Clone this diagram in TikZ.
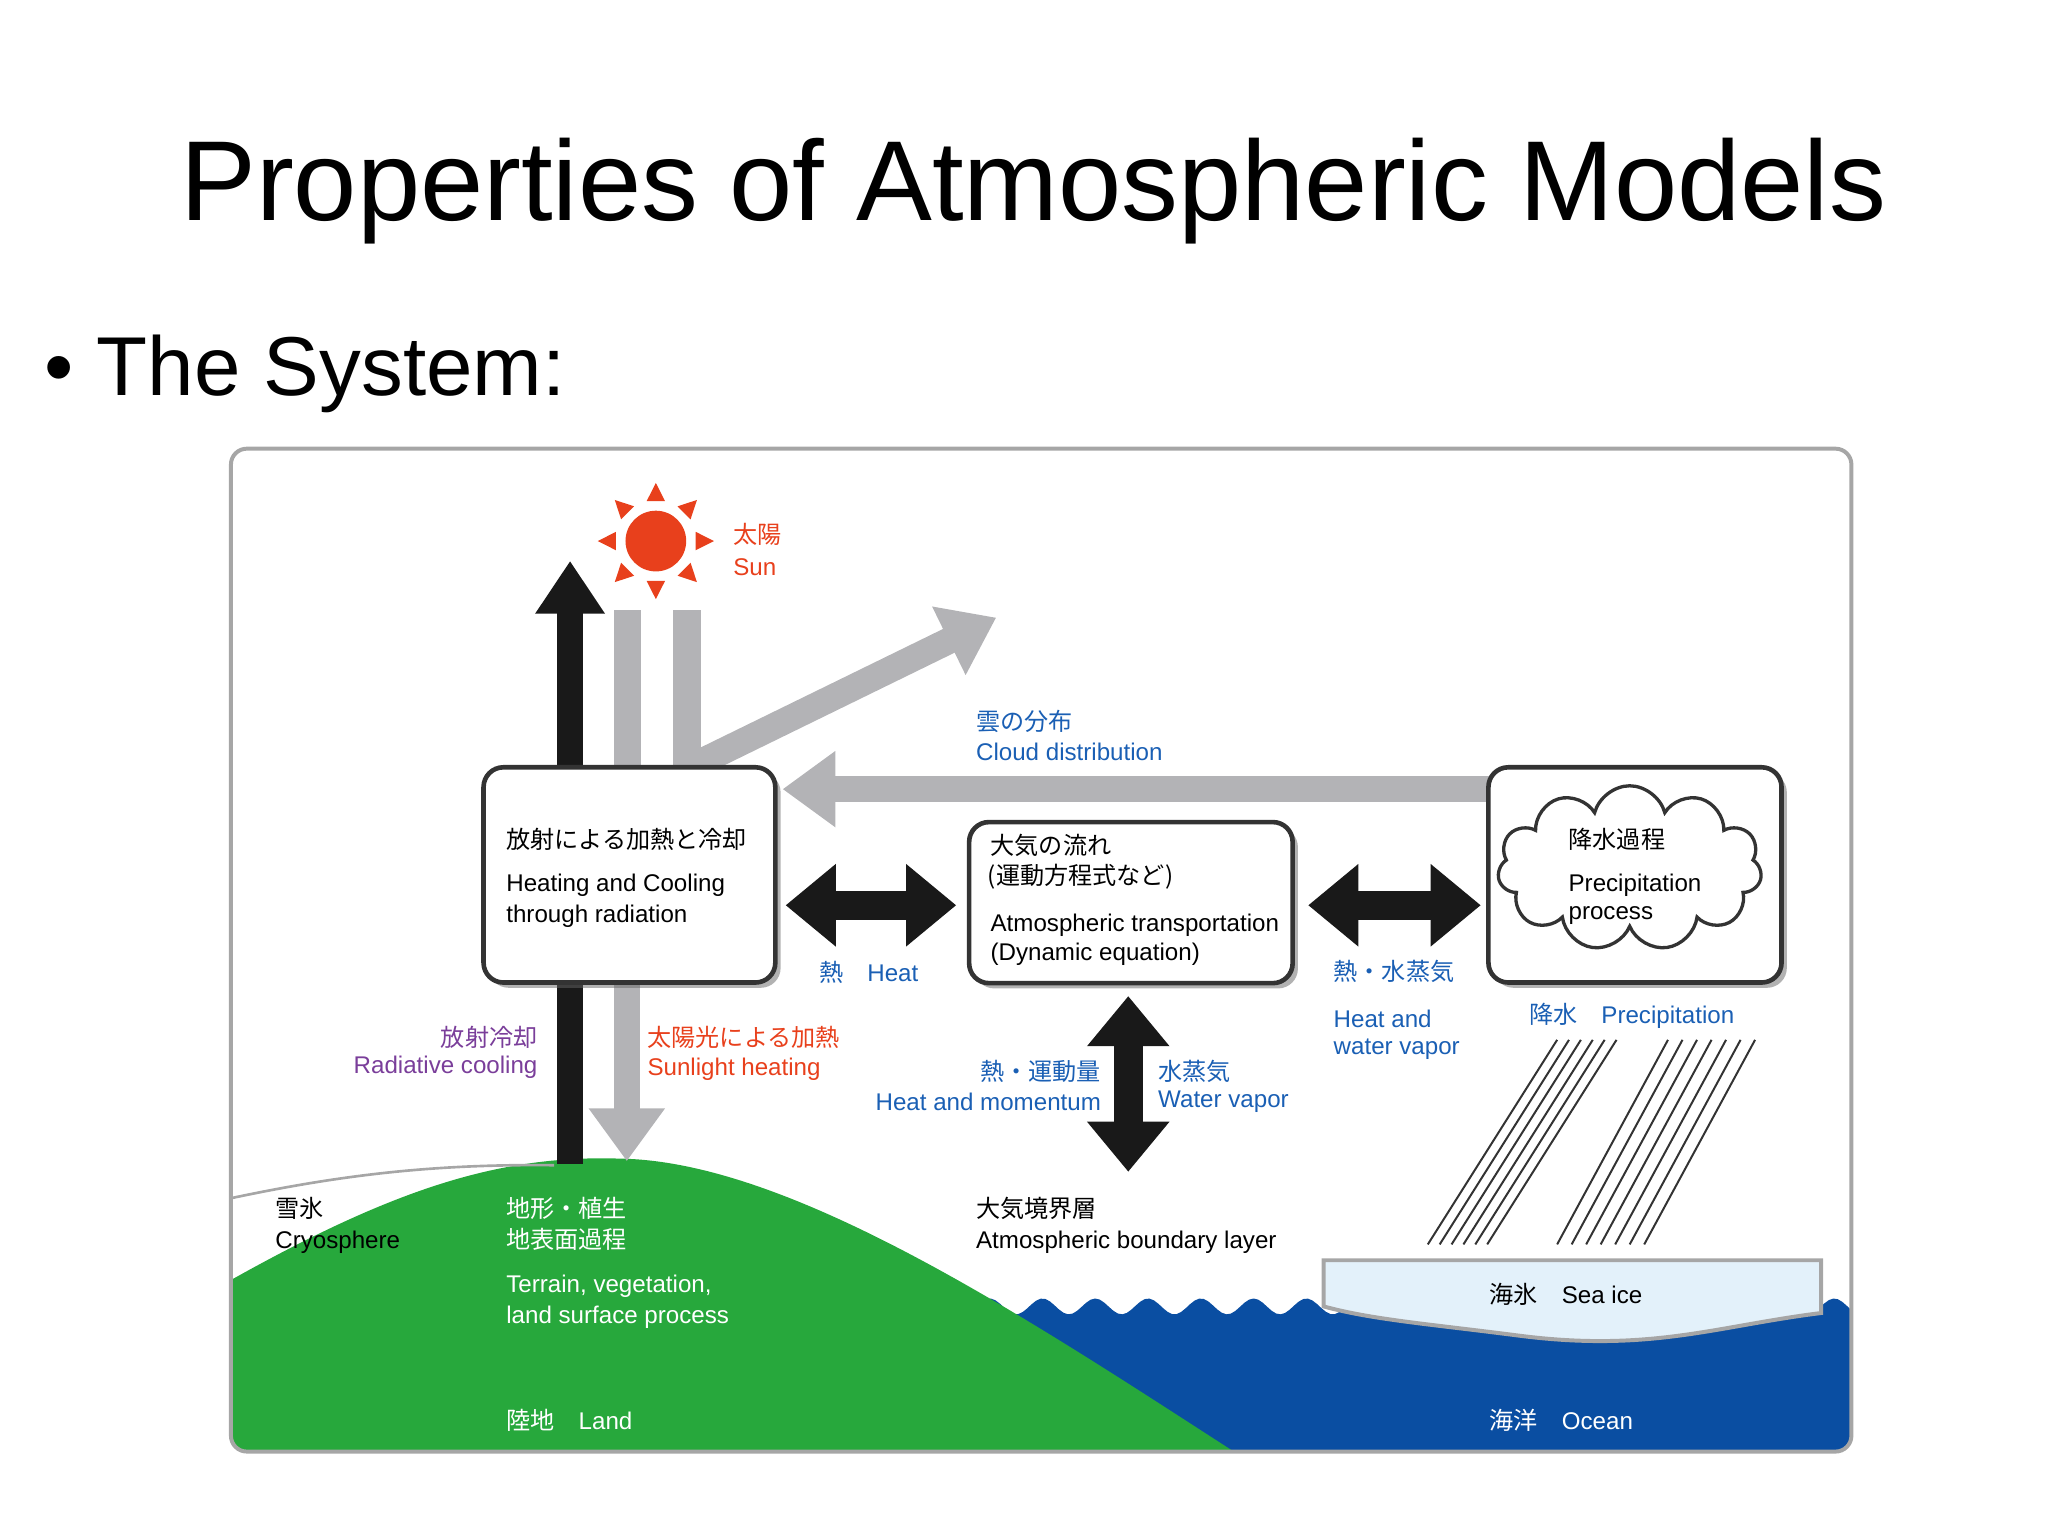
\documentclass[tikz,border=0pt]{standalone}
\usepackage{fontspec}
\setmainfont{Liberation Sans}
\newfontfamily\jp{Noto Sans CJK JP}
\usetikzlibrary{arrows.meta,shapes.symbols,shadows,calc}
\definecolor{jblue}{HTML}{1A5FB4}
\definecolor{jred}{HTML}{E8401C}
\definecolor{jpur}{HTML}{7A3E9A}
\definecolor{jgreen}{HTML}{27A83C}
\definecolor{jocean}{HTML}{0A4EA2}
\definecolor{jgray}{HTML}{B3B3B6}
\definecolor{jice}{HTML}{E3F1FA}
\begin{document}
\begin{tikzpicture}[x=0.01cm,y=-0.01cm,
  t/.style={anchor=west,inner sep=0,font=\fontsize{5.2}{6}\selectfont},
  tr/.style={anchor=east,inner sep=0,font=\fontsize{5.2}{6}\selectfont},
  bx/.style={draw=black!80,line width=0.35mm,fill=white,rounded corners=1.5mm,drop shadow={shadow xshift=0.4mm,shadow yshift=-0.4mm,fill=black!60}},
  garrow/.style={draw=jgray,line width=2mm,-{Triangle[length=4mm,width=5.5mm]}},
  barrow/.style={draw=black!90,line width=2.2mm,{Triangle[length=3.8mm,width=6mm]}-{Triangle[length=3.8mm,width=6mm]}}]
\useasboundingbox (0,0) rectangle (1552,1163);
\node[inner sep=0,font=\fontsize{24.5}{30}\selectfont] (title) at (783,145) {Properties of Atmospheric Models};
\node[anchor=west,inner sep=0,font=\fontsize{18}{22}\selectfont] (bul) at (33,283) {\textbullet\ The System:};
\begin{scope}
\clip[rounded corners=1.2mm] (175,340) rectangle (1403,1100);
\fill[jocean] plot[domain=720:1403,samples=200] (\x,{990+6*sin(\x*9)}) -- (1403,1100) -- (720,1100) -- cycle;
\fill[jgreen] (175,970) .. controls (300,900) and (380,875) .. (470,878) .. controls (600,880) and (780,1000) .. (935,1100) -- (175,1100) -- cycle;
\draw[gray!70,line width=0.2mm] (175,908) .. controls (260,890) and (330,882) .. (420,883);
\end{scope}
\draw[gray!70,line width=0.3mm,rounded corners=1.2mm] (175,340) rectangle (1403,1100);
\filldraw[fill=jice,draw=gray!70,line width=0.3mm] (1003,955) -- (1380,955) -- (1380,995) .. controls (1300,1005) and (1250,1025) .. (1150,1012) .. controls (1080,1003) and (1040,1000) .. (1003,990) -- cycle;
% sun
\fill[jred] (497,410) circle (23);
\foreach \a in {0,45,...,315}{\fill[jred] ($(497,410)+(\a:0.44cm)$) -- ($(497,410)+(\a+13:0.31cm)$) -- ($(497,410)+(\a-13:0.31cm)$) -- cycle;}
% arrows
\draw[draw=black!90,line width=2mm,-{Triangle[length=4mm,width=5mm]}] (432,882) -- (432,425);
\fill[jgray] (465,462) rectangle (486,582);
\fill[jgray] (510,462) rectangle (531,582);
\draw[garrow] (526,580) -- (755,468);
\draw[garrow] (1130,598) -- (593,598);
\draw[garrow] (475,745) -- (475,880);
\node[bx,minimum width=2.21cm,minimum height=1.63cm] (A) at (477,663) {};
\node[bx,minimum width=2.45cm,minimum height=1.22cm] (B) at (857,684) {};
\node[bx,minimum width=2.22cm,minimum height=1.63cm] (C) at (1239,663) {};
\node[cloud,draw=black!80,line width=0.25mm,cloud puffs=11,minimum width=2.0cm,minimum height=1.25cm] (cl) at (1235,658) {};
\draw[barrow] ($(A.east)+(6,23)$) -- ($(B.west)+(-8,2)$);
\draw[barrow] ($(B.east)+(10,2)$) -- ($(C.west)+(-4,23)$);
\draw[barrow] ($(B.south)+(-2,8)$) -- (855,888);
% rain
\foreach \i in {0,...,5}{\draw[black!80,line width=0.15mm] (1180+\i*9,788) -- (1082+\i*9,943);}
\foreach \i in {0,...,6}{\draw[black!80,line width=0.15mm] (1264+\i*11,788) -- (1180+\i*11,943);}
% texts
\node[t,text=jred] (s1) at (555,405) {\jp 太陽};
\node[t,text=jred] (s2) at (555,430) {Sun};
\node[t,text=jblue] (c1) at (739,547) {\jp 雲の分布};
\node[t,text=jblue] (c2) at (739,570) {Cloud distribution};
\node[t] (a1) at (383,636) {\jp 放射による加熱と冷却};
\node[t] (a2) at (383,671) {Heating and Cooling};
\node[t] (a3) at (383,694) {through radiation};
\node[t] (b1) at (750,641) {\jp 大気の流れ};
\node[t] (b2) at (748,664) {\jp (運動方程式など)};
\node[t] (b3) at (750,701) {Atmospheric transportation};
\node[t] (b4) at (750,723) {(Dynamic equation)};
\node[t] (p1) at (1188,636) {\jp 降水過程};
\node[t] (p2) at (1188,671) {Precipitation};
\node[t] (p3) at (1188,694) {process};
\node[t,text=jblue] (h1) at (620,737) {{\jp 熱}\quad Heat};
\node[t,text=jblue] (w1) at (1010,736) {\jp 熱・水蒸気};
\node[t,text=jblue] (w2) at (1010,772) {Heat and};
\node[t,text=jblue] (w3) at (1010,795) {water vapor};
\node[t,text=jblue] (r1) at (1158,770) {{\jp 降水}\quad Precipitation};
\node[tr,text=jpur] (rc1) at (408,786) {\jp 放射冷却};
\node[tr,text=jpur] (rc2) at (408,809) {Radiative cooling};
\node[t,text=jred] (sh1) at (490,786) {\jp 太陽光による加熱};
\node[t,text=jred] (sh2) at (490,810) {Sunlight heating};
\node[tr,text=jblue] (m1) at (835,812) {\jp 熱・運動量};
\node[tr,text=jblue] (m2) at (835,835) {Heat and momentum};
\node[t,text=jblue] (v1) at (877,812) {\jp 水蒸気};
\node[t,text=jblue] (v2) at (877,835) {Water vapor};
\node[t] (l1) at (739,916) {\jp 大気境界層};
\node[t] (l2) at (739,941) {Atmospheric boundary layer};
\node[t] (cr1) at (208,916) {\jp 雪氷};
\node[t] (cr2) at (208,941) {Cryosphere};
\node[t,text=white] (g1) at (383,916) {\jp 地形・植生};
\node[t,text=white] (g2) at (383,939) {\jp 地表面過程};
\node[t,text=white] (g3) at (383,975) {Terrain, vegetation,};
\node[t,text=white] (g4) at (383,998) {land surface process};
\node[t,text=white] (g5) at (383,1076) {{\jp 陸地}\quad Land};
\node[t] (si) at (1128,981) {{\jp 海氷}\quad Sea ice};
\node[t,text=white] (oc) at (1128,1076) {{\jp 海洋}\quad Ocean};
\end{tikzpicture}
\end{document}
